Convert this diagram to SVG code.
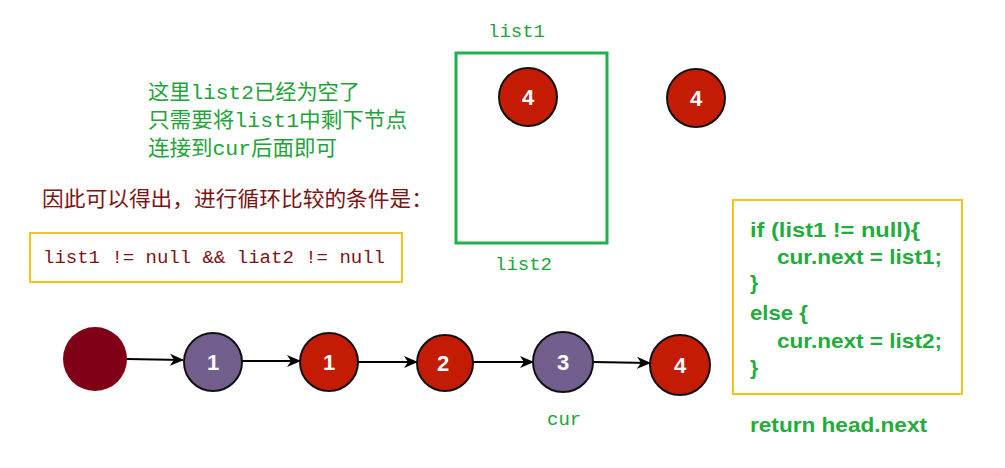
<svg xmlns="http://www.w3.org/2000/svg" width="1005" height="468" viewBox="0 0 1005 468">
<style>
.gt{font-family:"Liberation Mono","Noto Sans CJK SC",monospace;font-size:21px;fill:#21a33a}
.rt{font-family:"Liberation Mono","Noto Sans CJK SC",monospace;font-size:21px;fill:#7c1414}
.mono{font-family:"Liberation Mono","DejaVu Sans Mono",monospace;font-size:19px}
.code{font-family:"Liberation Sans","Noto Sans CJK SC",sans-serif;font-size:21px;font-weight:bold;fill:#22ac3c}
.red{fill:#c41c04;stroke:#111;stroke-width:2}
.pur{fill:#725e8c;stroke:#111;stroke-width:2}
.num{font-family:"Liberation Sans",sans-serif;font-size:22px;font-weight:bold;fill:#fff;text-anchor:middle}
.ybox{fill:none;stroke:#f5c21b;stroke-width:2}
.conn{stroke:#000;stroke-width:2;fill:none;marker-end:url(#ah)}
</style>
<defs>
<marker id="ah" markerUnits="userSpaceOnUse" markerWidth="14" markerHeight="12" refX="13" refY="6" orient="auto">
<path d="M0,0 L14,6 L0,12 L4,6 z" fill="#000"/>
</marker>
</defs>
<rect width="1005" height="468" fill="#fff"/>

<g id="note-green">
<text class="gt" x="148" y="99" textLength="212" lengthAdjust="spacingAndGlyphs">这里list2已经为空了</text>
<text class="gt" x="148" y="127" textLength="259" lengthAdjust="spacingAndGlyphs">只需要将list1中剩下节点</text>
<text class="gt" x="148" y="155" textLength="189" lengthAdjust="spacingAndGlyphs">连接到cur后面即可</text>
</g>

<g id="note-red">
<text class="rt" x="42" y="206" textLength="391" lengthAdjust="spacingAndGlyphs">因此可以得出，进行循环比较的条件是：</text>
</g>

<g id="condition-box">
<rect class="ybox" x="30" y="233" width="372" height="49"/>
<text class="mono" x="43" y="263" fill="#7c1414" textLength="342" lengthAdjust="spacingAndGlyphs">list1 != null &amp;&amp; liat2 != null</text>
</g>

<g id="list-box">
<rect x="456" y="53" width="151" height="190" fill="none" stroke="#1fb14a" stroke-width="3"/>
<text class="mono" x="488" y="37" fill="#21a33a">list1</text>
<text class="mono" x="495" y="270" fill="#21a33a">list2</text>
</g>

<g id="node-list1-4">
<circle class="red" cx="528" cy="97" r="29"/>
<text class="num" x="528" y="105">4</text>
</g>
<g id="node-extra-4">
<circle class="red" cx="696" cy="98" r="29"/>
<text class="num" x="696" y="106">4</text>
</g>

<g id="connectors">
<line class="conn" x1="127" y1="359" x2="183" y2="360"/>
<line class="conn" x1="242" y1="361" x2="300" y2="361"/>
<line class="conn" x1="358" y1="362" x2="417" y2="362"/>
<line class="conn" x1="473" y1="362" x2="533" y2="362"/>
<line class="conn" x1="593" y1="362" x2="650" y2="363"/>
</g>

<g id="node-head">
<circle cx="95" cy="359" r="32" fill="#800017"/>
</g>
<g id="node-p1">
<circle class="pur" cx="213" cy="362" r="29"/>
<text class="num" x="213" y="370">1</text>
</g>
<g id="node-r1">
<circle class="red" cx="329" cy="362" r="29"/>
<text class="num" x="329" y="370">1</text>
</g>
<g id="node-r2">
<circle class="red" cx="445" cy="363" r="28"/>
<text class="num" x="443" y="371">2</text>
</g>
<g id="node-p3">
<circle class="pur" cx="563" cy="362" r="30"/>
<text class="num" x="563" y="370">3</text>
</g>
<g id="node-r4">
<circle class="red" cx="680" cy="365" r="30"/>
<text class="num" x="680" y="373">4</text>
</g>
<g id="cur-label">
<text class="mono" x="547" y="425" fill="#21a33a">cur</text>
</g>

<g id="code-box">
<rect class="ybox" x="733" y="200" width="229" height="194"/>
<text class="code" x="750" y="237" textLength="170" lengthAdjust="spacingAndGlyphs">if (list1 != null){</text>
<text class="code" x="777" y="264" textLength="165" lengthAdjust="spacingAndGlyphs">cur.next = list1;</text>
<text class="code" x="750" y="290">}</text>
<text class="code" x="750" y="320" textLength="58" lengthAdjust="spacingAndGlyphs">else {</text>
<text class="code" x="777" y="348" textLength="165" lengthAdjust="spacingAndGlyphs">cur.next = list2;</text>
<text class="code" x="750" y="375">}</text>
</g>
<g id="return-label">
<text class="code" x="750" y="432" textLength="177" lengthAdjust="spacingAndGlyphs">return head.next</text>
</g>
</svg>
